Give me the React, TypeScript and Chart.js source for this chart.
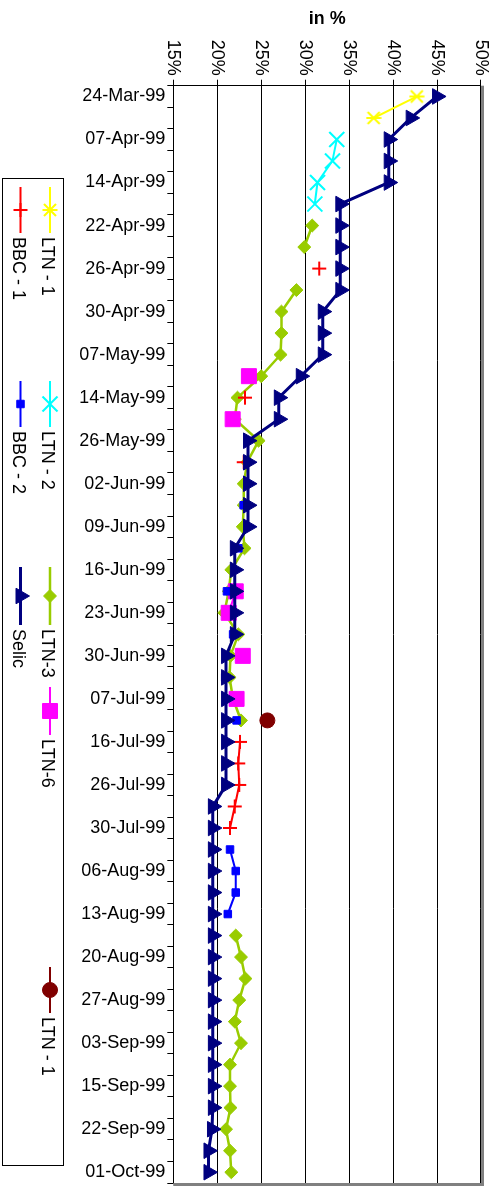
import React, { useEffect, useRef } from 'react';
import { Chart, registerables } from 'chart.js';
import { drawPoint } from 'chart.js/helpers';

Chart.register(...registerables);

const FONT = "'Liberation Sans', Arial, Helvetica, sans-serif";

// 51 categories (every other one is labelled)
const dates = [
  '24-Mar-99', '31-Mar-99', '07-Apr-99', '09-Apr-99', '14-Apr-99', '20-Apr-99',
  '22-Apr-99', '23-Apr-99', '26-Apr-99', '28-Apr-99', '30-Apr-99', '05-May-99',
  '07-May-99', '12-May-99', '14-May-99', '19-May-99', '26-May-99', '28-May-99',
  '02-Jun-99', '04-Jun-99', '09-Jun-99', '11-Jun-99', '16-Jun-99', '18-Jun-99',
  '23-Jun-99', '25-Jun-99', '30-Jun-99', '02-Jul-99', '07-Jul-99', '14-Jul-99',
  '16-Jul-99', '21-Jul-99', '26-Jul-99', '28-Jul-99', '30-Jul-99', '04-Aug-99',
  '06-Aug-99', '11-Aug-99', '13-Aug-99', '18-Aug-99', '20-Aug-99', '25-Aug-99',
  '27-Aug-99', '01-Sep-99', '03-Sep-99', '08-Sep-99', '15-Sep-99', '17-Sep-99',
  '22-Sep-99', '29-Sep-99', '01-Oct-99',
];

const valueTicks = [15, 20, 25, 30, 35, 40, 45, 50];

const N = null;

const selic = [
  45, 42, 39.5, 39.5, 39.5, 34, 34, 34, 34, 34,
  32, 32, 32, 29.5, 27, 27, 23.5, 23.5, 23.5, 23.5,
  23.5, 22, 22, 22, 22, 22, 21, 21, 21, 21,
  21, 21, 21, 19.5, 19.5, 19.5, 19.5, 19.5, 19.5, 19.5,
  19.5, 19.5, 19.5, 19.5, 19.5, 19.5, 19.5, 19.5, 19.4, 19,
  19,
];

const ltn1 = [
  42.7, 37.8, N, N, N, N, N, N, N, N,
  N, N, N, N, N, N, N, N, N, N,
  N, N, N, N, N, N, N, N, N, N,
  N, N, N, N, N, N, N, N, N, N,
  N, N, N, N, N, N, N, N, N, N,
  N,
];

const ltn2 = [
  N, N, 33.6, 33.1, 31.4, 31.1, N, N, N, N,
  N, N, N, N, N, N, N, N, N, N,
  N, N, N, N, N, N, N, N, N, N,
  N, N, N, N, N, N, N, N, N, N,
  N, N, N, N, N, N, N, N, N, N,
  N,
];

const ltn3 = [
  N, N, N, N, N, N, 30.8, 29.9, N, 29.0,
  27.3, 27.3, 27.2, 25.0, 22.3, 22.0, 24.7, 23.4, 23.0, 23.0,
  22.9, 23.1, 21.6, 21.3, 20.8, 22.4, 21.5, 21.4, 21.8, 22.7,
  N, N, N, N, N, N, N, N, N, 22.1,
  22.7, 23.2, 22.5, 22.0, 22.7, 21.45, 21.45, 21.5, 21.0, 21.45,
  21.6,
];

const bbc1 = [
  N, N, N, N, N, N, N, N, 31.6, N,
  N, N, N, N, 23.15, N, N, 23.0, N, N,
  N, N, N, N, N, N, N, N, N, N,
  22.6, 22.4, 22.5, 22.0, 21.45, N, N, N, N, N,
  N, N, N, N, N, N, N, N, N, N,
  N,
];

const bbc2 = [
  N, N, N, N, N, N, N, N, N, N,
  N, N, N, N, N, N, N, N, N, 23.0,
  N, 22.4, N, 21.1, N, 21.8, N, 20.9, N, 22.2,
  N, N, N, N, N, 21.45, 22.1, 22.1, 21.2, N,
  N, N, N, N, N, N, N, N, N, N,
  N,
];

const ltn6 = [
  N, N, N, N, N, N, N, N, N, N,
  N, N, N, 23.6, N, 21.75, N, N, N, N,
  N, N, N, 22.1, 21.3, N, 22.9, N, 22.2, N,
  N, N, N, N, N, N, N, N, N, N,
  N, N, N, N, N, N, N, N, N, N,
  N,
];

const ltn1b = [
  N, N, N, N, N, N, N, N, N, N,
  N, N, N, N, N, N, N, N, N, N,
  N, N, N, N, N, N, N, N, N, 25.7,
  N, N, N, N, N, N, N, N, N, N,
  N, N, N, N, N, N, N, N, N, N,
  N,
];

const seriesLabels = ['Selic', 'BBC - 2', 'BBC - 1', 'LTN-6', 'LTN - 1', 'LTN - 2', 'LTN-3', 'LTN - 1'];
const seriesData = [selic, bbc2, bbc1, ltn6, ltn1, ltn2, ltn3, ltn1b];
const seriesColors = ['#000080', '#0000FF', '#FF0000', '#FF00FF', '#FFFF00', '#00FFFF', '#99CC00', '#800000'];

function makeStar(color: string) {
  const s = 16;
  const c = document.createElement('canvas');
  c.width = s;
  c.height = s;
  const g = c.getContext('2d')!;
  g.strokeStyle = color;
  g.lineWidth = 2;
  g.beginPath();
  g.moveTo(2, 2); g.lineTo(s - 2, s - 2);
  g.moveTo(s - 2, 2); g.lineTo(2, s - 2);
  g.moveTo(s / 2, 0.5); g.lineTo(s / 2, s - 0.5);
  g.stroke();
  return c;
}

export default function App() {
  const ref = useRef<HTMLCanvasElement>(null);

  useEffect(() => {
    const canvas = ref.current!;
    const star = makeStar('#FFFF00');
    const styles: any[] = ['triangle', 'rect', 'cross', 'rect', star, 'crossRot', 'rectRot', 'circle'];
    const radii = [9, 5.3, 7, 10.6, 8, 10.6, 6.5, 7.5];
    const lineW = [3, 2, 2, 2, 2, 2, 2.5, 2];
    const markBW = [1, 1, 2, 1, 2, 2, 1, 1];
    // legend layout (canvas frame): row, start, line length
    const slots = [
      { row: 1, u: 567, len: 58 },
      { row: 1, u: 381, len: 46 },
      { row: 1, u: 187, len: 46 },
      { row: 0, u: 687, len: 48 },
      { row: 0, u: 187, len: 46 },
      { row: 0, u: 381, len: 46 },
      { row: 0, u: 567, len: 58 },
      { row: 0, u: 967, len: 46 },
    ];
    const rowV = [447, 476.5];

    const datasets = seriesLabels.map((label, i) => ({
      label,
      data: seriesData[i],
      borderColor: seriesColors[i],
      backgroundColor: seriesColors[i],
      borderWidth: lineW[i],
      pointStyle: styles[i],
      pointRadius: radii[i],
      pointHoverRadius: radii[i],
      pointBorderColor: seriesColors[i],
      pointBackgroundColor: seriesColors[i],
      pointBorderWidth: markBW[i],
      tension: 0,
      spanGaps: false,
      fill: false,
    }));

    const framePlugin = {
      id: 'frame',
      beforeDatasetsDraw(chart: any) {
        const { ctx, chartArea: a } = chart;
        ctx.save();
        ctx.strokeStyle = '#808080';
        ctx.lineWidth = 3;
        ctx.beginPath();
        ctx.moveTo(a.left, a.top - 1.5);
        ctx.lineTo(a.right + 1.5, a.top - 1.5);
        ctx.lineTo(a.right + 1.5, a.bottom);
        ctx.stroke();
        ctx.restore();
      },
    };

    const legendPlugin = {
      id: 'sideLegend',
      afterDraw(chart: any) {
        const ctx = chart.ctx;
        ctx.save();
        ctx.strokeStyle = '#000';
        ctx.lineWidth = 1;
        ctx.strokeRect(178.5, 433.5, 987, 61);
        seriesLabels.forEach((label, i) => {
          const sl = slots[i];
          const v = rowV[sl.row];
          ctx.strokeStyle = seriesColors[i];
          ctx.fillStyle = seriesColors[i];
          ctx.lineWidth = lineW[i];
          ctx.beginPath();
          ctx.moveTo(sl.u, v);
          ctx.lineTo(sl.u + sl.len, v);
          ctx.stroke();
          ctx.lineWidth = markBW[i];
          drawPoint(ctx, { pointStyle: styles[i], radius: radii[i], rotation: 0, borderWidth: markBW[i] } as any, sl.u + sl.len / 2, v);
          ctx.fillStyle = '#000';
          ctx.font = `18px ${FONT}`;
          ctx.textBaseline = 'middle';
          ctx.textAlign = 'left';
          ctx.fillText(label, sl.u + sl.len + 4, v + 3);
        });
        ctx.restore();
      },
    };

    const chart = new Chart(canvas, {
      type: 'line',
      data: { labels: dates, datasets },
      plugins: [framePlugin, legendPlugin],
      options: {
        animation: false,
        responsive: false,
        events: [],
        layout: { autoPadding: false, padding: { left: 0, top: 16, right: 4, bottom: 0 } },
        plugins: { legend: { display: false }, tooltip: { enabled: false } },
        scales: {
          x: {
            type: 'category',
            offset: true,
            grid: { display: true, drawOnChartArea: false, offset: true, tickLength: 6, color: '#000', lineWidth: 1 },
            border: { display: true, color: '#000', width: 1 },
            ticks: {
              autoSkip: false,
              minRotation: 90,
              maxRotation: 90,
              padding: 2,
              color: '#000',
              font: { family: FONT, size: 18 },
              callback: (_v: any, i: number) => (i % 2 === 0 ? dates[i] : ''),
            },
            afterFit: (s: any) => {
              s.height = 173.3;
              s.paddingLeft = 0;
              s.paddingRight = 0;
            },
          },
          y: {
            type: 'linear',
            min: valueTicks[0],
            max: valueTicks[valueTicks.length - 1],
            afterBuildTicks: (s: any) => { s.ticks = valueTicks.map((v) => ({ value: v })); },
            grid: { color: '#000', lineWidth: 1, tickLength: 6 },
            border: { display: true, color: '#000', width: 1 },
            ticks: {
              padding: 4,
              color: '#000',
              font: { family: FONT, size: 18 },
              callback: (v: any) => `${v}%`,
            },
            title: {
              display: true,
              text: 'in %',
              color: '#000',
              font: { family: FONT, size: 18, weight: 'bold' },
              padding: { top: 8, bottom: 0 },
            },
            afterFit: (s: any) => {
              s.width = 85.7;
              s.paddingTop = 0;
              s.paddingBottom = 0;
            },
          },
        },
      } as any,
    });
    return () => chart.destroy();
  }, []);

  return (
    <div style={{ position: 'absolute', left: 0, top: 0, width: 497, height: 1187, overflow: 'hidden', background: '#fff' }}>
      <canvas
        ref={ref}
        width={1187}
        height={497}
        style={{
          position: 'absolute',
          left: 0,
          top: 0,
          width: '1187px',
          height: '497px',
          transformOrigin: '0 0',
          transform: 'translate(497px, 0px) rotate(90deg)',
        }}
      />
    </div>
  );
}
